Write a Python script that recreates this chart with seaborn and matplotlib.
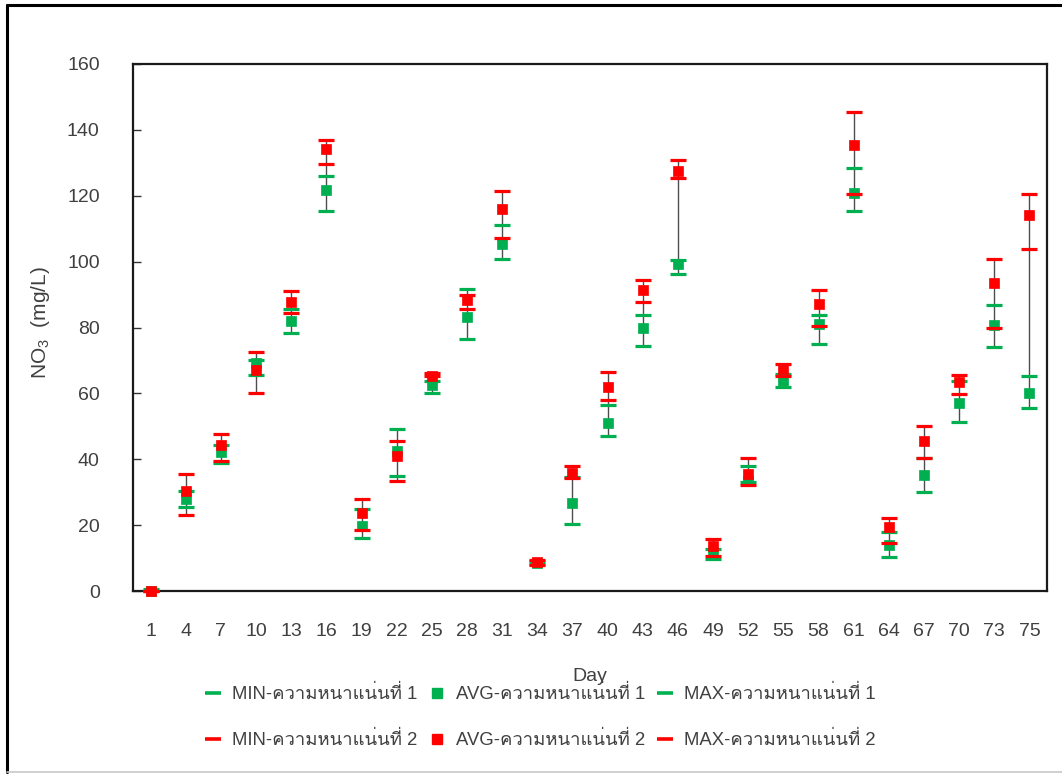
import numpy as np
import pandas as pd
import matplotlib
matplotlib.use("Agg")
import matplotlib.pyplot as plt
import seaborn as sns
from matplotlib import font_manager
from matplotlib.ft2font import FT2Font
from matplotlib.lines import Line2D

# ---- data ------------------------------------------------------------------
days = ["1", "4", "7", "10", "13", "16", "19", "22", "25", "28", "31", "34", "37",
        "40", "43", "46", "49", "52", "55", "58", "61", "64", "67", "70", "73", "75"]

min_1 = [0.0, 25.5, 39.0, 65.7, 78.3, 115.3, 16.1, 34.8, 60.2, 76.5, 100.8, 8.2, 20.2,
         47.1, 74.3, 96.3, 9.7, 33.0, 61.9, 75.1, 115.3, 10.4, 30.0, 51.4, 74.0, 55.6]
avg_1 = [0.0, 28.0, 42.1, 69.1, 82.1, 121.6, 19.8, 42.4, 62.4, 83.3, 105.4, 8.5, 26.7,
         51.1, 80.0, 99.4, 11.8, 33.4, 63.7, 81.1, 120.8, 14.0, 35.2, 57.0, 80.8, 60.2]
max_1 = [0.5, 30.5, 44.2, 70.0, 85.5, 126.1, 24.9, 49.2, 63.8, 91.6, 111.2, 9.0, 34.5,
         56.5, 83.9, 100.5, 12.9, 37.9, 66.0, 83.9, 128.3, 17.8, 40.5, 63.8, 86.9, 65.3]

min_2 = [0.0, 23.0, 39.4, 60.2, 84.4, 129.5, 18.6, 33.4, 65.2, 85.7, 107.2, 8.0, 34.3,
         58.1, 87.7, 125.5, 10.7, 32.3, 65.4, 80.5, 120.4, 14.7, 40.5, 59.9, 79.9, 103.9]
avg_2 = [0.0, 30.5, 44.2, 67.1, 87.8, 134.3, 23.7, 41.1, 65.2, 88.3, 116.1, 8.7, 35.8,
         61.9, 91.3, 127.6, 13.7, 35.4, 67.5, 87.0, 135.3, 19.4, 45.4, 63.5, 93.6, 114.1]
max_2 = [0.0, 35.4, 47.6, 72.6, 91.0, 136.8, 27.8, 45.4, 66.1, 90.0, 121.4, 9.5, 38.1,
         66.5, 94.3, 130.8, 15.7, 40.5, 68.9, 91.3, 145.4, 22.1, 50.0, 65.7, 100.8, 120.4]

series_names = ["MIN-ความหนาแน่นที่ 1", "AVG-ความหนาแน่นที่ 1", "MAX-ความหนาแน่นที่ 1",
                "MIN-ความหนาแน่นที่ 2", "AVG-ความหนาแน่นที่ 2", "MAX-ความหนาแน่นที่ 2"]
y_ticks = [0, 20, 40, 60, 80, 100, 120, 140, 160]

GREEN = "#00B050"
RED = "#FF0000"
TEXT = "#404040"


# ---- fonts: a Latin sans plus any installed face that carries Thai ---------
def thai_font():
    for f in font_manager.fontManager.ttflist:
        try:
            cmap = FT2Font(f.fname).get_charmap()
        except Exception:
            continue
        if all(ord(c) in cmap for c in "ความหนาแน่นที่"):
            return f.name
    return None


sns.set_theme(style="white")
families = ["Liberation Sans"]
tf = thai_font()
if tf:
    families.append(tf)
families.append("DejaVu Sans")
plt.rcParams["font.family"] = families

# ---- long-form table -------------------------------------------------------
x_pos = np.arange(len(days))
values = [min_1, avg_1, max_1, min_2, avg_2, max_2]
df = pd.concat(
    [pd.DataFrame({"pos": x_pos, "day": days, "value": v, "series": n})
     for n, v in zip(series_names, values)],
    ignore_index=True,
)
wide = df.pivot(index="pos", columns="series", values="value")
low = wide.min(axis=1)
high = wide.max(axis=1)

# ---- figure ----------------------------------------------------------------
W, H = 1062, 774
fig = plt.figure(figsize=(W / 100, H / 100), dpi=100)
fig.patch.set_facecolor("white")
ax = fig.add_axes([133 / W, 1 - 591 / H, (1047 - 133) / W, (591 - 64) / H])

# high-low connector for each day
ax.vlines(low.index, low.values, high.values, color="#4d4d4d", lw=1.0, zorder=1)

styles = {
    series_names[0]: ("_", GREEN), series_names[1]: ("s", GREEN), series_names[2]: ("_", GREEN),
    series_names[3]: ("_", RED), series_names[4]: ("s", RED), series_names[5]: ("_", RED),
}
for name in series_names:
    mk, col = styles[name]
    sub = df[df["series"] == name]
    if mk == "s":
        sns.scatterplot(data=sub, x="pos", y="value", marker="s", s=7.0 ** 2,
                        color=col, edgecolor=col, linewidth=0.5, ax=ax,
                        zorder=3, clip_on=False, legend=False)
    else:
        sns.scatterplot(data=sub, x="pos", y="value", marker="_", s=11.5 ** 2,
                        color=col, edgecolor=col, linewidth=2.3, ax=ax,
                        zorder=3, clip_on=False, legend=False)

ax.set_xlim(-0.5, len(days) - 0.5)
ax.set_ylim(0, 160)
ax.set_yticks(y_ticks)
ax.set_yticklabels([str(t) for t in y_ticks])
ax.set_xticks(x_pos)
ax.set_xticklabels(days)
ax.tick_params(axis="y", direction="in", length=6, width=1, color="#333333",
               pad=24, labelsize=14, labelcolor=TEXT, left=True)
ax.tick_params(axis="x", length=0, pad=23, labelsize=14, labelcolor=TEXT)

for sp in ax.spines.values():
    sp.set_visible(True)
    sp.set_color("#1a1a1a")
    sp.set_linewidth(1.6)

ax.set_xlabel("Day", fontsize=14, color=TEXT)
ax.xaxis.set_label_coords(0.5, -0.146)
ax.set_ylabel(r"NO$_\mathregular{3}$  (mg/L)", fontsize=15, color=TEXT)
ax.yaxis.set_label_coords(-0.0886, 0.51)
ax.grid(False)

# legend, laid out row by row
handles = {}
for name in series_names:
    mk, col = styles[name]
    if mk == "s":
        handles[name] = Line2D([], [], ls="none", marker="s", ms=6.5, color=col)
    else:
        handles[name] = Line2D([], [], ls="none", marker="_", ms=11, mew=2.6, color=col)
order = [0, 3, 1, 4, 2, 5]
leg = fig.legend([handles[series_names[i]] for i in order],
                 [series_names[i] for i in order],
                 ncol=3, loc="center", bbox_to_anchor=(0.509, 1 - 717 / H),
                 frameon=False, fontsize=13.3, labelspacing=1.5,
                 handlelength=0.85, handletextpad=0.6, columnspacing=0.65)
for t in leg.get_texts():
    t.set_color(TEXT)

# outer border of the chart area
fig.add_artist(Line2D([7 / W, 7 / W], [0.002, 1 - 5 / H], color="black", lw=2.2,
                      transform=fig.transFigure))
fig.add_artist(Line2D([7 / W, 1.0], [1 - 5 / H, 1 - 5 / H], color="black", lw=2.2,
                      transform=fig.transFigure))
fig.add_artist(Line2D([7 / W, 1.0], [1 - 772 / H, 1 - 772 / H], color="#c8c8c8", lw=1.2,
                      transform=fig.transFigure))

fig.savefig("out.png", dpi=100, facecolor="white")
